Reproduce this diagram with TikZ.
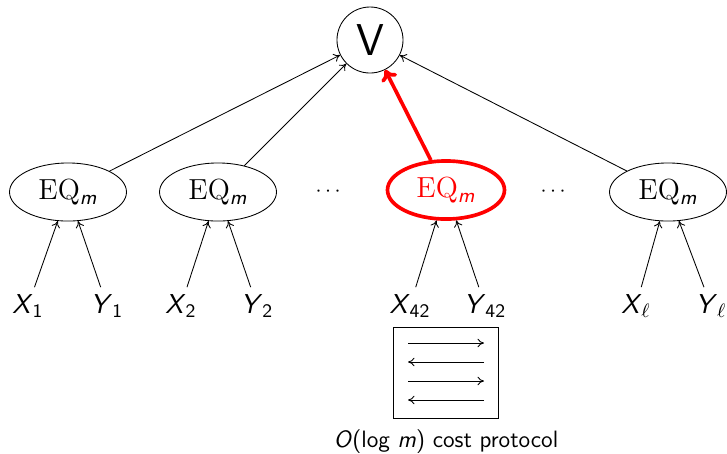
\documentclass[tikz,border=0pt]{standalone}
\usepackage{amsmath}
\usetikzlibrary{shapes.geometric,arrows.meta}

% sans-serif italic variables
\newcommand\svar[1]{\textsf{\itshape #1}}
\newcommand\eqm{\textrm{EQ}$_{\textsf{\itshape m}}$}

\begin{document}
\begin{tikzpicture}[x=0.465pt,y=-0.465pt,
  eqnode/.style={draw,ellipse,minimum width=54.4pt,minimum height=27pt,inner sep=1pt,
    font=\fontsize{13.5}{15}\selectfont},
  leaf/.style={font=\fontsize{12.7}{15}\selectfont,inner sep=3pt,anchor=base},
  link/.style={draw,-{To[length=3pt,width=4pt]},thin},
  hot/.style={draw=red,line width=1.7pt}]
  \useasboundingbox (0,0) rectangle (727,453);

  % root
  \node[draw,circle,minimum size=30.7pt,inner sep=0pt,font=\huge\sffamily] (root) at (370,40) {V};

  % equality gadgets
  \node[eqnode] (e1) at (68,192) {\eqm};
  \node[eqnode] (e2) at (218,192) {\eqm};
  \node[eqnode,hot,text=red] (e3) at (446,190) {\eqm};
  \node[eqnode] (e4) at (668,192) {\eqm};

  \node (d1) at (330,192) {$\cdots$};
  \node (d2) at (555,192) {$\cdots$};

  % inputs
  \node[leaf] (x1) at (28,313) {\svar{X}$_{\textsf{1}}$};
  \node[leaf] (y1) at (107,313) {\svar{Y}$_{\textsf{1}}$};
  \node[leaf] (x2) at (181,313) {\svar{X}$_{\textsf{2}}$};
  \node[leaf] (y2) at (257,313) {\svar{Y}$_{\textsf{2}}$};
  \node[leaf] (x3) at (410,313) {\svar{X}$_{\textsf{42}}$};
  \node[leaf] (y3) at (485,313) {\svar{Y}$_{\textsf{42}}$};
  \node[leaf] (x4) at (636,313) {\svar{X}$_{\ell}$};
  \node[leaf] (y4) at (711,313) {\svar{Y}$_{\ell}$};

  \foreach \i in {1,2,3,4} {
    \draw[link] (x\i) -- (e\i);
    \draw[link] (y\i) -- (e\i);
  }
  \draw[link] (e1) -- (root);
  \draw[link] (e2) -- (root);
  \draw[link] (e4) -- (root);
  \draw[hot,-{To[length=5pt,width=8pt]}] (e3) -- (root);

  % protocol box
  \node[draw,thin,minimum width=48.8pt,minimum height=42.3pt,inner sep=0pt] (box) at (445.5,372.5) {};
  \draw[link] (408,343) -- (484,343);
  \draw[link] (484,362) -- (408,362);
  \draw[link] (408,381) -- (484,381);
  \draw[link] (484,400) -- (408,400);

  \node[anchor=base,font=\fontsize{11}{13}\selectfont\sffamily] (cap) at (446,447)
    {\textit{O}(log \textit{m}) cost protocol};
\end{tikzpicture}
\end{document}
